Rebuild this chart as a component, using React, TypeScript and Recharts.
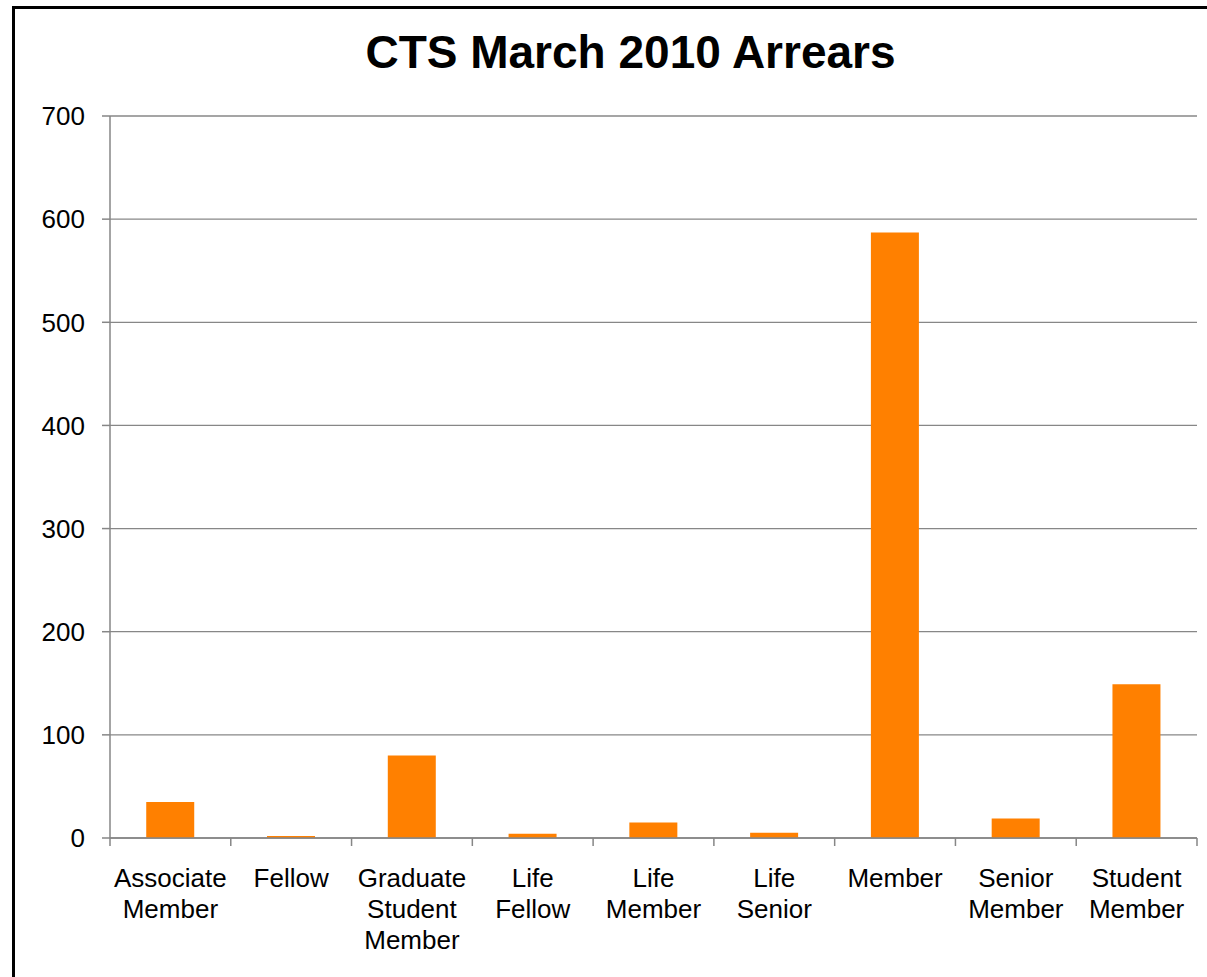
import React from "react"
import { Bar, BarChart, CartesianGrid, XAxis, YAxis } from "recharts"

const categories = [
  "Associate Member",
  "Fellow",
  "Graduate Student Member",
  "Life Fellow",
  "Life Member",
  "Life Senior",
  "Member",
  "Senior Member",
  "Student Member",
]

const arrears = [35, 2, 80, 4, 15, 5, 587, 19, 149]

const yTicks = [0, 100, 200, 300, 400, 500, 600, 700]

const data = categories.map((name, i) => ({ name, arrears: arrears[i] }))

const W = 1207
const H = 977
const LEFT = 110
const RIGHT = 10
const BAND = (W - LEFT - RIGHT) / categories.length

function CategoryTick(props: any) {
  const { x, y, payload, index } = props
  const words = String(payload.value).split(" ")
  const last = index === categories.length - 1
  return (
    <g>
      <line x1={x - BAND / 2} x2={x - BAND / 2} y1={y - 8} y2={y} stroke="#868686" strokeWidth={1.5} />
      {last && <line x1={x + BAND / 2} x2={x + BAND / 2} y1={y - 8} y2={y} stroke="#868686" strokeWidth={1.5} />}
      <text x={x} y={y} textAnchor="middle" fill="#000" fontSize={26} fontFamily="Liberation Sans, Arial, sans-serif">
        {words.map((w, i) => (
          <tspan key={i} x={x} dy={i === 0 ? 41 : 31}>
            {w}
          </tspan>
        ))}
      </text>
    </g>
  )
}

export default function App() {
  return (
    <div style={{ position: "fixed", left: 0, top: 0, width: W, height: H, overflow: "hidden", background: "#fff" }}>
      <div
        style={{
          position: "absolute",
          left: 12,
          top: 6,
          width: W + 20,
          height: H + 20,
          border: "3px solid #000",
        }}
      />
      <div
        style={{
          position: "absolute",
          left: 0,
          width: W,
          top: 24,
          textAlign: "center",
          fontFamily: "Liberation Sans, Arial, sans-serif",
          fontWeight: "bold",
          fontSize: 46,
          lineHeight: "56px",
          color: "#000",
          paddingLeft: 54,
          boxSizing: "border-box",
        }}
      >
        CTS March 2010 Arrears
      </div>
      <div style={{ position: "absolute", left: 0, top: 0 }}>
        <BarChart
          width={W}
          height={H}
          data={data}
          margin={{ top: 116, right: RIGHT, left: 0, bottom: 0 }}
          barCategoryGap="30%"
        >
          <CartesianGrid vertical={false} stroke="#878787" strokeWidth={1.3} />
          <XAxis
            dataKey="name"
            height={139}
            interval={0}
            tickLine={false}
            tickSize={8}
            tickMargin={0}
            axisLine={{ stroke: "#868686", strokeWidth: 1.5 }}
            tick={<CategoryTick />}
          />
          <YAxis
            width={LEFT}
            domain={[0, 700]}
            ticks={yTicks}
            interval={0}
            tickSize={8}
            tickMargin={17}
            axisLine={{ stroke: "#868686", strokeWidth: 1.5 }}
            tickLine={{ stroke: "#868686", strokeWidth: 1.5 }}
            tick={{ fill: "#000", fontSize: 26, fontFamily: "Liberation Sans, Arial, sans-serif" }}
          />
          <Bar dataKey="arrears" fill="#FF8000" isAnimationActive={false} />
        </BarChart>
      </div>
    </div>
  )
}
